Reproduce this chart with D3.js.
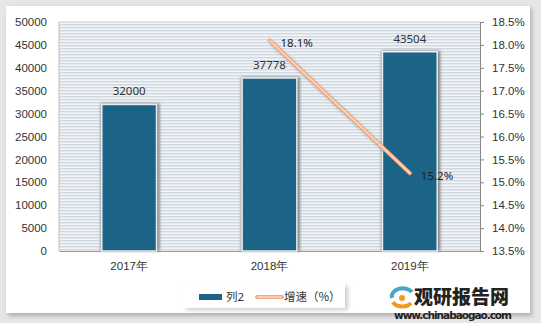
<!DOCTYPE html>
<html><head><meta charset="utf-8">
<script src="https://cdn.jsdelivr.net/npm/d3@7"></script>
<style>body{margin:0;background:#fff;}svg{display:block;font-family:"Noto Sans","Noto Sans CJK SC",sans-serif;}</style>
</head><body>
<script>
const categories = ["2017年","2018年","2019年"];
const values = [32000, 37778, 43504];
const growthCats = ["2018年","2019年"];
const growth = [18.1, 15.2];
const leftTicks = [0,5000,10000,15000,20000,25000,30000,35000,40000,45000,50000];
const rightTicks = [13.5,14.0,14.5,15.0,15.5,16.0,16.5,17.0,17.5,18.0,18.5];

const W=541,H=323;
const svg=d3.select("body").append("svg").attr("width",W).attr("height",H);
const defs=svg.append("defs");
const pat=defs.append("pattern").attr("id","stripe").attr("patternUnits","userSpaceOnUse").attr("width",6).attr("height",3);
pat.append("rect").attr("width",6).attr("height",3).attr("fill","#f2f5f8");
pat.append("rect").attr("y",0).attr("width",6).attr("height",1.4).attr("fill","#cfd8e1");
const blur=defs.append("filter").attr("id","sh").attr("x","-20%").attr("y","-20%").attr("width","140%").attr("height","140%");
blur.append("feGaussianBlur").attr("stdDeviation",2);
const blur2=defs.append("filter").attr("id","sh2").attr("x","-20%").attr("y","-20%").attr("width","140%").attr("height","140%");
blur2.append("feGaussianBlur").attr("stdDeviation",1.5);

// outer frame
svg.append("rect").attr("width",W).attr("height",H).attr("fill","#e6e6e6");
svg.append("rect").attr("x",8).attr("y",8).attr("width",524).attr("height",308).attr("fill","#b0b0b0").attr("filter","url(#sh)");
svg.append("rect").attr("x",6).attr("y",6).attr("width",524).attr("height",307).attr("fill","#fff");

const m={l:59,r:480,t:22,b:251};
const x=d3.scaleBand().domain(categories).range([m.l,m.r]);
const y=d3.scaleLinear().domain([0,50000]).range([m.b,m.t]);
const y2=d3.scaleLinear().domain([13.5,18.5]).range([m.b,m.t]);

svg.append("rect").attr("x",m.l).attr("y",m.t).attr("width",m.r-m.l).attr("height",m.b-m.t).attr("fill","url(#stripe)");
svg.append("line").attr("x1",m.l).attr("x2",m.l).attr("y1",m.t).attr("y2",m.b).attr("stroke","#bfbfbf");
svg.append("line").attr("x1",m.l).attr("x2",m.r).attr("y1",m.t).attr("y2",m.t).attr("stroke","#d0d0d0");

// axes
const fs="11.5px";
const ax=svg.append("g").attr("transform",`translate(${m.l-4},0)`).call(d3.axisLeft(y).tickValues(leftTicks).tickSize(0).tickPadding(8).tickFormat(d3.format("d")));
ax.select(".domain").remove();
ax.selectAll("text").attr("font-size",fs).attr("fill","#333");
const ar=svg.append("g").attr("transform",`translate(${m.r},0)`).call(d3.axisRight(y2).tickValues(rightTicks).tickSize(4).tickPadding(8).tickFormat(d=>d.toFixed(1)+"%"));
ar.select(".domain").attr("stroke","#888");
ar.selectAll("line").attr("stroke","#888");
ar.selectAll("text").attr("font-size",fs).attr("fill","#333");
const ab=svg.append("g").attr("transform",`translate(0,${m.b})`).call(d3.axisBottom(x).tickSize(0).tickPadding(11));
ab.select(".domain").attr("stroke","#999");
ab.selectAll("text").attr("font-size",fs).attr("fill","#333");

// bars
const bw=x.bandwidth()*0.39;
const bx=d=>x(d)+x.bandwidth()/2-bw/2;
svg.selectAll(".bs").data(values).join("rect")
 .attr("x",(d,i)=>bx(categories[i])-1).attr("y",d=>y(d)-1).attr("width",bw+4).attr("height",d=>m.b-y(d)+1)
 .attr("fill","#6f6f6f").attr("opacity",0.85).attr("filter","url(#sh2)");
svg.selectAll(".b").data(values).join("rect")
 .attr("x",(d,i)=>bx(categories[i])).attr("y",d=>y(d)).attr("width",bw).attr("height",d=>m.b-y(d))
 .attr("fill","#1b6487").attr("stroke","#e8eef3").attr("stroke-width",1.5);
svg.selectAll(".bl").data(values).join("text")
 .attr("x",(d,i)=>x(categories[i])+x.bandwidth()/2).attr("y",d=>y(d)-9)
 .attr("text-anchor","middle").attr("font-size",fs).attr("fill","#333").text(d=>d);

// line
const lx=d=>x(d)+x.bandwidth()/2;
const pts=growth.map((g,i)=>[lx(growthCats[i]),y2(g)]);
const line=d3.line();
svg.append("path").attr("d",line(pts.map(p=>[p[0]+1.5,p[1]+2]))).attr("stroke","#555").attr("stroke-opacity",0.5).attr("stroke-width",3.5).attr("fill","none").attr("filter","url(#sh2)");
svg.append("path").attr("d",line(pts)).attr("stroke","#f4a97d").attr("stroke-width",4).attr("stroke-linecap","round").attr("fill","none");
svg.append("path").attr("d",line(pts)).attr("stroke","#fbd9c3").attr("stroke-width",1.5).attr("stroke-linecap","round").attr("fill","none");
svg.selectAll(".gl").data(growth).join("text")
 .attr("x",(d,i)=>lx(growthCats[i])+11).attr("y",(d,i)=>y2(d)+7)
 .attr("font-size",fs).attr("fill","#222").text(d=>d.toFixed(1)+"%");

// legend
svg.append("rect").attr("x",186).attr("y",286).attr("width",162).attr("height",24).attr("fill","#999").attr("opacity",0.5).attr("filter","url(#sh)");
svg.append("rect").attr("x",183).attr("y",283).attr("width",162).attr("height",25).attr("fill","#fff");
svg.append("rect").attr("x",199).attr("y",294).attr("width",23).attr("height",6).attr("fill","#1b6487");
svg.append("text").attr("x",226).attr("y",301).attr("font-size","11.5px").attr("fill","#333").text("列2");
svg.append("line").attr("x1",257).attr("x2",282).attr("y1",297).attr("y2",297).attr("stroke","#f4a97d").attr("stroke-width",4).attr("stroke-linecap","round");
svg.append("line").attr("x1",257).attr("x2",282).attr("y1",297).attr("y2",297).attr("stroke","#fbd9c3").attr("stroke-width",1.5);
svg.append("text").attr("x",284).attr("y",301).attr("font-size","11.5px").attr("fill","#333").attr("font-family","'Noto Sans CJK SC',sans-serif").text("增速（%）");

// logo
const lg=svg.append("g");
lg.append("path").attr("d","M392,298 a11,8 0 0 1 20,-6").attr("stroke","#4aa3c8").attr("stroke-width",4).attr("fill","none");
lg.append("path").attr("d","M393,302 a10,7 0 0 0 18,1").attr("stroke","#f39a1d").attr("stroke-width",4).attr("fill","none");
lg.append("circle").attr("cx",402).attr("cy",298).attr("r",3).attr("fill","#f39a1d");
lg.append("text").attr("x",414).attr("y",304).attr("font-size","19px").attr("font-weight","900").attr("fill","#222").attr("font-family","'Noto Sans CJK SC',sans-serif").text("观研报告网");
lg.append("text").attr("x",394).attr("y",319).attr("font-size","10.5px").attr("font-weight","bold").attr("fill","#222").attr("font-family","'DejaVu Sans',sans-serif").attr("textLength",118).text("www.chinabaogao.com");
</script>
</body></html>
